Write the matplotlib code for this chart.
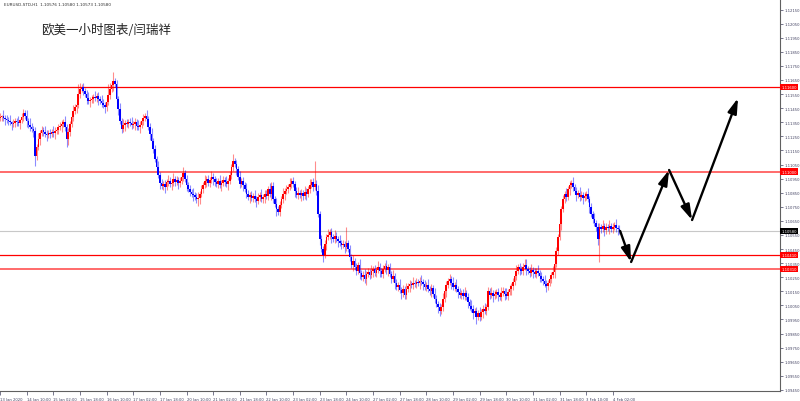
import numpy as np
import matplotlib
matplotlib.use("Agg")
import matplotlib.pyplot as plt
from matplotlib.transforms import blended_transform_factory

# ---------------- data ----------------
title = "欧美一小时图表/闫瑞祥"
header = "EURUSD-STD,H1  1.10576 1.10580 1.10573 1.10580"

first_open = 1.11380
closes = [
    1.11387, 1.11394, 1.11380, 1.11373, 1.11366, 1.11359, 1.11352, 1.11337, 1.11344, 1.11359, 1.11352, 1.11344, 1.11366, 1.11387,
    1.11415, 1.11394, 1.11359, 1.11330, 1.11316, 1.11302, 1.11288, 1.11110, 1.11174, 1.11231, 1.11273, 1.11295, 1.11281,
    1.11266, 1.11259, 1.11273, 1.11266, 1.11281, 1.11273, 1.11288, 1.11295, 1.11316, 1.11323, 1.11337, 1.11352,
    1.11316, 1.11231, 1.11281, 1.11337, 1.11387, 1.11430, 1.11458, 1.11472, 1.11550, 1.11586, 1.11600,
    1.11572, 1.11550, 1.11522, 1.11501, 1.11508, 1.11515, 1.11529, 1.11522, 1.11536, 1.11515, 1.11501,
    1.11486, 1.11472, 1.11458, 1.11494, 1.11543, 1.11586, 1.11614, 1.11643, 1.11621, 1.11515, 1.11444, 1.11359, 1.11302,
    1.11330, 1.11344, 1.11337, 1.11352, 1.11344, 1.11330, 1.11337, 1.11352, 1.11323, 1.11316, 1.11330,
    1.11359, 1.11380, 1.11394, 1.11373, 1.11316, 1.11266, 1.11217, 1.11160, 1.11089, 1.11032, 1.10975, 1.10918, 1.10897, 1.10911, 1.10890, 1.10926,
    1.10933, 1.10911, 1.10918, 1.10947, 1.10926, 1.10940, 1.10918, 1.10933, 1.10961, 1.10989,
    1.10947, 1.10904, 1.10876, 1.10855, 1.10840, 1.10833, 1.10819, 1.10805, 1.10812, 1.10840, 1.10876,
    1.10904, 1.10933, 1.10947, 1.10918, 1.10940, 1.10961, 1.10947,
    1.10926, 1.10911, 1.10933, 1.10904, 1.10918, 1.10940, 1.10926, 1.10911, 1.10933, 1.10975,
    1.11032, 1.11075, 1.11053, 1.11018, 1.10961, 1.10911, 1.10933, 1.10904, 1.10876, 1.10840, 1.10819, 1.10833,
    1.10812, 1.10826, 1.10805, 1.10791, 1.10819, 1.10833, 1.10805, 1.10819, 1.10840, 1.10826,
    1.10876, 1.10840, 1.10897, 1.10805, 1.10769, 1.10734, 1.10713, 1.10762,
    1.10805, 1.10840, 1.10862, 1.10876, 1.10890, 1.10911, 1.10933, 1.10911,
    1.10862, 1.10833, 1.10847, 1.10833, 1.10847, 1.10826, 1.10855, 1.10840, 1.10876, 1.10904, 1.10926,
    1.10890, 1.10911, 1.10862, 1.10698, 1.10521, 1.10450, 1.10407,
    1.10485, 1.10535, 1.10549, 1.10570, 1.10535, 1.10521, 1.10542, 1.10521, 1.10507, 1.10492, 1.10478,
    1.10485, 1.10464, 1.10492, 1.10450, 1.10393, 1.10336,
    1.10365, 1.10322, 1.10294, 1.10336, 1.10280, 1.10251, 1.10265, 1.10237, 1.10272, 1.10287, 1.10265,
    1.10294, 1.10308, 1.10280, 1.10301, 1.10322, 1.10294, 1.10272, 1.10308, 1.10329, 1.10301,
    1.10322, 1.10272, 1.10237, 1.10258, 1.10208, 1.10180, 1.10194, 1.10159,
    1.10137, 1.10166, 1.10123, 1.10166,
    1.10187, 1.10201, 1.10194, 1.10208, 1.10201, 1.10216, 1.10208, 1.10223, 1.10216, 1.10201,
    1.10180, 1.10194, 1.10166, 1.10152, 1.10173,
    1.10130, 1.10095, 1.10059, 1.10038, 1.10010, 1.10038,
    1.10095, 1.10152, 1.10194, 1.10223, 1.10237,
    1.10208, 1.10180, 1.10194, 1.10166,
    1.10145, 1.10123, 1.10137, 1.10116, 1.10137, 1.10109,
    1.10074, 1.10045, 1.10024, 1.09995, 1.10010, 1.09967,
    1.09995, 1.09967, 1.10003, 1.10024, 1.10010, 1.10038, 1.10152, 1.10123,
    1.10137, 1.10116, 1.10130, 1.10145, 1.10123, 1.10109, 1.10137, 1.10152, 1.10130, 1.10116, 1.10145,
    1.10166, 1.10187, 1.10216, 1.10258, 1.10294, 1.10322, 1.10308,
    1.10294, 1.10322, 1.10336, 1.10308, 1.10294, 1.10280, 1.10301, 1.10287, 1.10272, 1.10294, 1.10280,
    1.10258, 1.10237, 1.10223, 1.10201, 1.10187, 1.10208, 1.10237, 1.10265, 1.10287,
    1.10343, 1.10436, 1.10535, 1.10627, 1.10734, 1.10805, 1.10840, 1.10819, 1.10876, 1.10904, 1.10918, 1.10890,
    1.10862, 1.10833, 1.10847, 1.10819, 1.10833, 1.10812, 1.10826, 1.10840, 1.10805,
    1.10748, 1.10698, 1.10663, 1.10634, 1.10606, 1.10521, 1.10606, 1.10592, 1.10613, 1.10585, 1.10606,
    1.10599, 1.10613, 1.10592, 1.10606, 1.10620, 1.10599, 1.10592, 1.10580,
]

# wick lengths beyond the body, in pips (one digit per bar)
wick_up_pips = ("3142324132 2413324253 2324232432 3243223324 2323423242 3234232423 "
                "2432324232 3242423234 2324323242 3423242323 2432423232 4232324234 "
                "2324232432 3242324232 4232423243 2324232423 3242324232 4232423234 "
                "2324324232 3423232423 2432423232 3242324234 2324232432 3242324232 "
                "4232423242 3234232423 2432324232 3242423234 2324323242 3423242323 "
                "2432423232 4232324234 2324232432 3242324232 4232423243 2324232423 "
                "3242324232 4232423242")
wick_dn_pips = ("2324232423 3242324232 4232423242 3234232423 2432324232 3242423234 "
                "2324323242 3423242323 2432423232 4232324234 2324232432 3242324232 "
                "4232423243 2324232423 3242324232 4232423234 2324324232 3423232423 "
                "2432423232 3242324234 2324232432 3242324232 4232423242 3234232423 "
                "2432324232 3242423234 2324323242 3423242323 2432423232 4232324234 "
                "2324232432 3242324232 4232423243 2324232423 3242324232 4232423234 "
                "2324324232 3423232423")

spike_high = {14: 1.11430, 47: 1.11621, 65: 1.11621, 68: 1.11707, 87: 1.11415,
              140: 1.11124, 163: 1.10926, 189: 1.11075, 208: 1.10606, 270: 1.10272,
              315: 1.10379, 343: 1.10940}
spike_low = {21: 1.11039, 40: 1.11174, 119: 1.10755, 166: 1.10684, 194: 1.10357,
             219: 1.10208, 243: 1.10095, 264: 1.09974, 286: 1.09917, 328: 1.10166,
             360: 1.10357}

x_labels = ["13 Jan 2020", "14 Jan 10:00", "15 Jan 02:00", "15 Jan 18:00", "16 Jan 10:00",
            "17 Jan 02:00", "17 Jan 18:00", "20 Jan 10:00", "21 Jan 02:00", "21 Jan 18:00",
            "22 Jan 10:00", "23 Jan 02:00", "23 Jan 18:00", "24 Jan 10:00", "27 Jan 02:00",
            "27 Jan 18:00", "28 Jan 10:00", "29 Jan 02:00", "29 Jan 18:00", "30 Jan 10:00",
            "31 Jan 02:00", "31 Jan 18:00", "3 Feb 10:00", "4 Feb 02:00"]
bars_per_label = 16

levels_bright = [1.11600, 1.10410]
levels_soft = [1.11000, 1.10310]
current_price = 1.10580

y_tick_values = [1.09450 + 0.001 * k for k in range(28)]

arrow_bars = [372.4, 379.0, 401.8, 415.6, 443.2]
arrow_prices = [1.10578, 1.10358, 1.11011, 1.10656, 1.11522]

# ---------------- figure ----------------
plt.rcParams['font.family'] = ['DejaVu Sans']
W, H = 800, 402
fig = plt.figure(figsize=(W / 100, H / 100), dpi=100)
fig.patch.set_facecolor('white')
ax = fig.add_axes([0, 10 / H, 780 / W, 392 / H])
ax.set_facecolor('white')

n = len(closes)
idx = np.arange(n)
c = np.array(closes)
o = np.concatenate([[first_open], c[:-1]])
top = np.maximum(o, c)
bot = np.minimum(o, c)
wu = np.array([int(ch) for ch in wick_up_pips.replace(' ', '')][:n])
wd = np.array([int(ch) for ch in wick_dn_pips.replace(' ', '')][:n])
hi = top + wu * 1e-4
lo = bot - wd * 1e-4
for k, v in spike_high.items():
    hi[k] = max(hi[k], v)
for k, v in spike_low.items():
    lo[k] = min(lo[k], v)

bull = c >= o
cols = np.where(bull, '#ff0000', '#0000ff')

# levels
for lv in levels_bright:
    ax.axhline(lv, color='#ff0000', lw=0.9, zorder=1)
for lv in levels_soft:
    ax.axhline(lv, color='#ff6a6a', lw=1.4, zorder=1)
ax.axhline(current_price, color='#c8c8c8', lw=0.8, zorder=1)

ax.vlines(idx, lo, hi, colors=cols, lw=0.8, alpha=0.45, zorder=2)
ax.bar(idx, np.maximum(top - bot, 0.00005), bottom=bot, width=0.95,
       color=cols, linewidth=0, zorder=3)

# arrows
for i in range(len(arrow_bars) - 1):
    ax.annotate('', xy=(arrow_bars[i + 1], arrow_prices[i + 1]),
                xytext=(arrow_bars[i], arrow_prices[i]),
                arrowprops=dict(arrowstyle='-|>,head_length=1.0,head_width=0.3',
                                lw=1.7, color='black', shrinkA=0, shrinkB=0,
                                mutation_scale=9),
                zorder=5, annotation_clip=False)

# axes limits / spines
ax.set_xlim(0.4, 468.4)
ax.set_ylim(1.09442, 1.12225)
for s in ['left', 'top']:
    ax.spines[s].set_visible(False)
for s in ['right', 'bottom']:
    ax.spines[s].set_color('#606060')
    ax.spines[s].set_linewidth(0.8)

ax.yaxis.tick_right()
ax.set_yticks(y_tick_values)
ax.set_yticklabels([f"{v:.5f}" for v in y_tick_values])
ax.tick_params(axis='y', direction='out', length=2, width=0.5, pad=1.0,
               labelsize=2.7, colors='#404060')
ax.set_xticks([k * bars_per_label for k in range(len(x_labels))])
ax.set_xticklabels(x_labels, ha='left')
ax.tick_params(axis='x', direction='out', length=3, width=0.5, pad=1,
               labelsize=2.7, colors='#404060')
for t in ax.get_xticklabels():
    t.set_horizontalalignment('left')

# right-side price boxes
tr = blended_transform_factory(ax.transAxes, ax.transData)
for lv in levels_bright + levels_soft:
    ax.text(1.002, lv, f"{lv:.5f}", transform=tr, fontsize=2.7, color='white',
            ha='left', va='center', zorder=6,
            bbox=dict(boxstyle='square,pad=0.3', fc='#ff0000', ec='none'))
ax.text(1.002, current_price, f"{current_price:.5f}", transform=tr, fontsize=2.7,
        color='white', ha='left', va='center', zorder=6,
        bbox=dict(boxstyle='square,pad=0.3', fc='#000000', ec='none'))

# texts
fig.text(106 / W, 1 - 31 / H, title, fontsize=9, color='#222222',
         family=['Noto Sans CJK SC', 'DejaVu Sans'], ha='center', va='center')
fig.text(4 / W, 1 - 5 / H, header, fontsize=3.0, color='#303030',
         ha='left', va='center')

fig.savefig('out.png', dpi=100, facecolor='white')
